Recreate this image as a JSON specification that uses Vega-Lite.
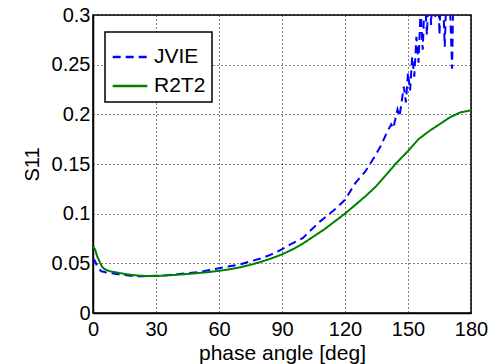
{
  "$schema": "https://vega.github.io/schema/vega-lite/v6.json",
  "width": 378,
  "height": 298,
  "autosize": {"type": "none"},
  "padding": {"left": 93, "top": 15, "right": 19, "bottom": 51},
  "background": "white",
  "config": {
    "font": "Liberation Sans",
    "view": {"stroke": "black", "strokeWidth": 1.5},
    "axis": {
      "domainColor": "black",
      "domainWidth": 1.5,
      "grid": true,
      "gridColor": "black",
      "gridOpacity": 1,
      "gridDash": [1, 3],
      "gridWidth": 1,
      "ticks": false,
      "labelColor": "black",
      "labelFont": "Liberation Sans",
      "labelFontSize": 20,
      "labelFlush": false,
      "labelOverlap": false,
      "titleColor": "black",
      "titleFont": "Liberation Sans",
      "titleFontWeight": "normal",
      "titleFontSize": 21
    },
    "legend": {
      "orient": "none",
      "legendX": 12,
      "legendY": 17,
      "strokeColor": "black",
      "strokeWidth": 1.5,
      "fillColor": "white",
      "padding": 6,
      "symbolType": "stroke",
      "symbolSize": 1200,
      "symbolStrokeWidth": 2.5,
      "labelFont": "Liberation Sans",
      "labelFontSize": 21,
      "labelColor": "black",
      "labelOffset": 5,
      "rowPadding": 0
    }
  },
  "data": {
    "values": [
      {"x": 0, "y": 0.055, "series": "JVIE"},
      {"x": 1, "y": 0.052, "series": "JVIE"},
      {"x": 2, "y": 0.047, "series": "JVIE"},
      {"x": 3, "y": 0.044, "series": "JVIE"},
      {"x": 4, "y": 0.042, "series": "JVIE"},
      {"x": 6, "y": 0.041, "series": "JVIE"},
      {"x": 9, "y": 0.040, "series": "JVIE"},
      {"x": 12, "y": 0.039, "series": "JVIE"},
      {"x": 16, "y": 0.038, "series": "JVIE"},
      {"x": 20, "y": 0.037, "series": "JVIE"},
      {"x": 25, "y": 0.037, "series": "JVIE"},
      {"x": 30, "y": 0.0375, "series": "JVIE"},
      {"x": 35, "y": 0.038, "series": "JVIE"},
      {"x": 40, "y": 0.039, "series": "JVIE"},
      {"x": 45, "y": 0.040, "series": "JVIE"},
      {"x": 50, "y": 0.041, "series": "JVIE"},
      {"x": 55, "y": 0.043, "series": "JVIE"},
      {"x": 60, "y": 0.045, "series": "JVIE"},
      {"x": 65, "y": 0.047, "series": "JVIE"},
      {"x": 70, "y": 0.049, "series": "JVIE"},
      {"x": 75, "y": 0.052, "series": "JVIE"},
      {"x": 80, "y": 0.055, "series": "JVIE"},
      {"x": 85, "y": 0.059, "series": "JVIE"},
      {"x": 89, "y": 0.063, "series": "JVIE"},
      {"x": 94, "y": 0.069, "series": "JVIE"},
      {"x": 100, "y": 0.0755, "series": "JVIE"},
      {"x": 103, "y": 0.082, "series": "JVIE"},
      {"x": 108, "y": 0.092, "series": "JVIE"},
      {"x": 115, "y": 0.104, "series": "JVIE"},
      {"x": 120, "y": 0.114, "series": "JVIE"},
      {"x": 125, "y": 0.131, "series": "JVIE"},
      {"x": 129.5, "y": 0.142, "series": "JVIE"},
      {"x": 134, "y": 0.157, "series": "JVIE"},
      {"x": 137, "y": 0.168, "series": "JVIE"},
      {"x": 140, "y": 0.182, "series": "JVIE"},
      {"x": 142, "y": 0.19, "series": "JVIE"},
      {"x": 143, "y": 0.186, "series": "JVIE"},
      {"x": 145, "y": 0.205, "series": "JVIE"},
      {"x": 146, "y": 0.198, "series": "JVIE"},
      {"x": 148, "y": 0.228, "series": "JVIE"},
      {"x": 149, "y": 0.212, "series": "JVIE"},
      {"x": 150, "y": 0.242, "series": "JVIE"},
      {"x": 151, "y": 0.224, "series": "JVIE"},
      {"x": 152, "y": 0.258, "series": "JVIE"},
      {"x": 153, "y": 0.238, "series": "JVIE"},
      {"x": 154, "y": 0.278, "series": "JVIE"},
      {"x": 155, "y": 0.252, "series": "JVIE"},
      {"x": 156, "y": 0.305, "series": "JVIE"},
      {"x": 157, "y": 0.265, "series": "JVIE"},
      {"x": 158, "y": 0.32, "series": "JVIE"},
      {"x": 159, "y": 0.28, "series": "JVIE"},
      {"x": 160, "y": 0.33, "series": "JVIE"},
      {"x": 161, "y": 0.29, "series": "JVIE"},
      {"x": 162, "y": 0.34, "series": "JVIE"},
      {"x": 163, "y": 0.298, "series": "JVIE"},
      {"x": 164, "y": 0.35, "series": "JVIE"},
      {"x": 165, "y": 0.28, "series": "JVIE"},
      {"x": 166, "y": 0.36, "series": "JVIE"},
      {"x": 167.5, "y": 0.268, "series": "JVIE"},
      {"x": 169, "y": 0.37, "series": "JVIE"},
      {"x": 171, "y": 0.246, "series": "JVIE"},
      {"x": 172, "y": 0.38, "series": "JVIE"},
      {"x": 180, "y": 0.42, "series": "JVIE"},
      {"x": 0, "y": 0.067, "series": "R2T2"},
      {"x": 1, "y": 0.064, "series": "R2T2"},
      {"x": 2, "y": 0.057, "series": "R2T2"},
      {"x": 3.3, "y": 0.051, "series": "R2T2"},
      {"x": 4.5, "y": 0.046, "series": "R2T2"},
      {"x": 5.7, "y": 0.044, "series": "R2T2"},
      {"x": 8, "y": 0.042, "series": "R2T2"},
      {"x": 12, "y": 0.0405, "series": "R2T2"},
      {"x": 16, "y": 0.039, "series": "R2T2"},
      {"x": 20, "y": 0.038, "series": "R2T2"},
      {"x": 25, "y": 0.0372, "series": "R2T2"},
      {"x": 30, "y": 0.0372, "series": "R2T2"},
      {"x": 35, "y": 0.0378, "series": "R2T2"},
      {"x": 40, "y": 0.0385, "series": "R2T2"},
      {"x": 45, "y": 0.0393, "series": "R2T2"},
      {"x": 50, "y": 0.0402, "series": "R2T2"},
      {"x": 55, "y": 0.0412, "series": "R2T2"},
      {"x": 60, "y": 0.0425, "series": "R2T2"},
      {"x": 65, "y": 0.044, "series": "R2T2"},
      {"x": 70, "y": 0.046, "series": "R2T2"},
      {"x": 75, "y": 0.0485, "series": "R2T2"},
      {"x": 80, "y": 0.0515, "series": "R2T2"},
      {"x": 85, "y": 0.055, "series": "R2T2"},
      {"x": 90, "y": 0.059, "series": "R2T2"},
      {"x": 95, "y": 0.064, "series": "R2T2"},
      {"x": 100, "y": 0.07, "series": "R2T2"},
      {"x": 105, "y": 0.077, "series": "R2T2"},
      {"x": 110, "y": 0.084, "series": "R2T2"},
      {"x": 115, "y": 0.092, "series": "R2T2"},
      {"x": 120, "y": 0.1, "series": "R2T2"},
      {"x": 125, "y": 0.109, "series": "R2T2"},
      {"x": 130, "y": 0.118, "series": "R2T2"},
      {"x": 135, "y": 0.128, "series": "R2T2"},
      {"x": 140, "y": 0.14, "series": "R2T2"},
      {"x": 144, "y": 0.15, "series": "R2T2"},
      {"x": 150, "y": 0.163, "series": "R2T2"},
      {"x": 155, "y": 0.175, "series": "R2T2"},
      {"x": 160, "y": 0.183, "series": "R2T2"},
      {"x": 165, "y": 0.19, "series": "R2T2"},
      {"x": 170, "y": 0.197, "series": "R2T2"},
      {"x": 175, "y": 0.202, "series": "R2T2"},
      {"x": 180, "y": 0.204, "series": "R2T2"}
    ]
  },
  "mark": {"type": "line", "clip": true, "strokeWidth": 2},
  "encoding": {
    "x": {
      "field": "x",
      "type": "quantitative",
      "scale": {"domain": [0, 180], "nice": false},
      "axis": {"values": [0, 30, 60, 90, 120, 150, 180], "title": "phase angle [deg]", "labelPadding": 6, "titlePadding": 3}
    },
    "y": {
      "field": "y",
      "type": "quantitative",
      "scale": {"domain": [0, 0.3], "nice": false, "zero": false},
      "axis": {"values": [0, 0.05, 0.1, 0.15, 0.2, 0.25, 0.3], "format": "~g", "title": "S11", "labelPadding": 3, "titlePadding": 9, "titleFontSize": 20}
    },
    "color": {
      "field": "series",
      "type": "nominal",
      "scale": {"domain": ["JVIE", "R2T2"], "range": ["#0000ff", "#008000"]},
      "legend": {"title": null}
    },
    "strokeDash": {
      "field": "series",
      "type": "nominal",
      "scale": {"domain": ["JVIE", "R2T2"], "range": [[8, 5], [1, 0]]},
      "legend": {"title": null}
    },
    "order": {"field": "x", "type": "quantitative"}
  }
}
